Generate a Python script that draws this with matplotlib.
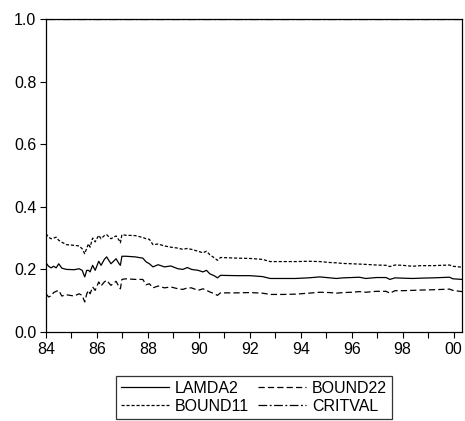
import numpy as np
from matplotlib import pyplot as plt

plt.rcParams['font.family'] = ['Liberation Sans', 'DejaVu Sans']

# fechas (años decimales, 84 = 1984) y valores
fechas = [84.00, 84.10, 84.20, 84.30, 84.40, 84.50, 84.62, 84.80, 85.10, 85.30, 85.42, 85.52, 85.60,
          85.67, 85.73, 85.83, 85.93, 86.07, 86.16, 86.29, 86.38, 86.55, 86.75, 86.87, 86.92, 86.98, 87.14,
          87.50, 87.80, 87.93, 88.06, 88.20, 88.40, 88.65, 88.90, 89.18, 89.37, 89.55, 89.71, 89.97, 90.16,
          90.30, 90.43, 90.62, 90.73, 90.85,
          91.50, 92.00, 92.50, 92.80, 93.30, 93.80, 94.30, 94.75, 95.14, 95.40, 95.66, 96.00, 96.30, 96.55,
          96.97, 97.35, 97.50, 97.70, 98.00, 98.39, 98.70, 99.20, 99.84, 99.97, 100.33]

lamda2 = [0.221, 0.210, 0.205, 0.210, 0.205, 0.218, 0.204, 0.200, 0.199, 0.202, 0.197, 0.176, 0.197,
          0.197, 0.192, 0.213, 0.197, 0.226, 0.213, 0.232, 0.240, 0.218, 0.234, 0.218, 0.213, 0.242, 0.242,
          0.240, 0.236, 0.224, 0.218, 0.208, 0.215, 0.208, 0.211, 0.202, 0.200, 0.206, 0.200, 0.197, 0.192,
          0.197, 0.186, 0.179, 0.173, 0.181,
          0.180, 0.180, 0.177, 0.171, 0.171, 0.171, 0.173, 0.176, 0.173, 0.171, 0.173, 0.174, 0.175, 0.171,
          0.174, 0.174, 0.168, 0.173, 0.172, 0.171, 0.172, 0.173, 0.175, 0.170, 0.168]

bound11 = [0.314, 0.303, 0.298, 0.300, 0.303, 0.293, 0.287, 0.279, 0.277, 0.275, 0.266, 0.250, 0.268,
           0.282, 0.271, 0.300, 0.288, 0.309, 0.298, 0.308, 0.311, 0.298, 0.307, 0.293, 0.285, 0.311, 0.309,
           0.308, 0.302, 0.298, 0.296, 0.279, 0.281, 0.275, 0.271, 0.268, 0.264, 0.267, 0.264, 0.258, 0.253,
           0.258, 0.247, 0.236, 0.229, 0.238,
           0.236, 0.235, 0.232, 0.225, 0.225, 0.225, 0.226, 0.225, 0.222, 0.221, 0.219, 0.218, 0.217, 0.216,
           0.214, 0.213, 0.209, 0.214, 0.213, 0.210, 0.212, 0.212, 0.214, 0.210, 0.207]

bound22 = [0.122, 0.112, 0.115, 0.126, 0.130, 0.133, 0.115, 0.119, 0.115, 0.122, 0.117, 0.096, 0.122,
           0.133, 0.122, 0.144, 0.133, 0.160, 0.147, 0.160, 0.165, 0.149, 0.162, 0.144, 0.138, 0.168, 0.170,
           0.168, 0.168, 0.151, 0.154, 0.141, 0.147, 0.141, 0.144, 0.138, 0.136, 0.141, 0.141, 0.133, 0.138,
           0.133, 0.128, 0.122, 0.117, 0.125,
           0.125, 0.126, 0.124, 0.120, 0.120, 0.121, 0.124, 0.127, 0.126, 0.124, 0.126, 0.127, 0.129, 0.127,
           0.130, 0.130, 0.124, 0.132, 0.132, 0.133, 0.134, 0.135, 0.137, 0.133, 0.129]

critval = 1.0

ticks_x = [84, 86, 88, 90, 92, 94, 96, 98, 100]
etiquetas_x = ['84', '86', '88', '90', '92', '94', '96', '98', '00']

fig = plt.figure(figsize=(4.65, 4.21), dpi=100)
ax = fig.add_axes([46 / 465, 89 / 421, 416 / 465, 313 / 421])

lw = 0.9
ax.plot(fechas, lamda2, color='black', lw=lw, label='LAMDA2')
ax.plot(fechas, bound11, color='black', lw=lw, dashes=(2.5, 1.5), label='BOUND11')
ax.plot(fechas, bound22, color='black', lw=lw, dashes=(5, 2.5), label='BOUND22')
ax.plot([fechas[0], fechas[-1]], [critval, critval], color='black', lw=lw,
        dashes=(7, 2, 1.5, 2), label='CRITVAL')

ax.set_xlim(84, 100.33)
ax.set_ylim(0, 1.0)
ax.set_xticks(ticks_x)
ax.set_xticklabels(etiquetas_x)
ax.set_xticks(np.arange(85, 100, 2), minor=True)
ax.set_yticks([0.0, 0.2, 0.4, 0.6, 0.8, 1.0])
ax.set_yticklabels(['0.0', '0.2', '0.4', '0.6', '0.8', '1.0'])
ax.tick_params(which='both', direction='out', length=4, width=0.8, labelsize=11.5, pad=3)
for s in ax.spines.values():
    s.set_linewidth(0.9)

leg = ax.legend(loc='upper center', bbox_to_anchor=(0.5, -0.14), ncol=2, fontsize=11.5,
                frameon=True, fancybox=False, edgecolor='black', handlelength=3.0,
                handletextpad=0.35, columnspacing=0.6, labelspacing=0.2,
                borderpad=0.3, borderaxespad=0)
leg.get_frame().set_linewidth(0.9)

plt.savefig('out.png', dpi=100)
